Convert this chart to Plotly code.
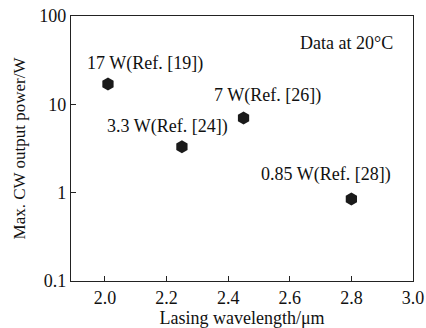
import math
import plotly.graph_objects as go

wavelength = [2.01, 2.25, 2.45, 2.80]
power = [17, 3.3, 7, 0.85]
labels = ["17 W(Ref. [19])", "3.3 W(Ref. [24])", "7 W(Ref. [26])", "0.85 W(Ref. [28])"]
label_shift_x = [37, -14, 24, -25]
label_shift_y = [20, 20, 23, 24]
x_ticks = [2.0, 2.2, 2.4, 2.6, 2.8, 3.0]
x_ticktext = ["2.0", "2.2", "2.4", "2.6", "2.8", "3.0"]
y_ticks = [0.1, 1, 10, 100]
y_ticktext = ["0.1", "1", "10", "100"]

FONT = "Liberation Serif, Times New Roman, serif"
TXT = "#111"

fig = go.Figure()
fig.add_trace(go.Scatter(
    x=wavelength, y=power, mode="markers",
    marker=dict(symbol="hexagon", size=13, color="#1a1a1a"),
    showlegend=False, hoverinfo="skip"))

for x, y, t, dx, dy in zip(wavelength, power, labels, label_shift_x, label_shift_y):
    fig.add_annotation(x=x, y=math.log10(y), text=t, showarrow=False,
                       xshift=dx, yshift=dy, xanchor="center", yanchor="middle",
                       font=dict(family=FONT, size=18, color=TXT))

fig.add_annotation(xref="paper", yref="paper", x=0.807, y=0.898, text="Data at 20°C",
                   showarrow=False, xanchor="center", yanchor="middle",
                   font=dict(family=FONT, size=18, color=TXT))

axis_common = dict(showline=True, linecolor="#222", linewidth=1.3, mirror=True,
                   ticks="inside", ticklen=5, tickcolor="#222", showgrid=False,
                   zeroline=False, automargin=False, ticklabeloverflow="allow",
                   tickfont=dict(family=FONT, size=18, color=TXT))

fig.update_xaxes(range=[1.89, 3.0], tickvals=x_ticks, ticktext=x_ticktext,
                 title=dict(text="Lasing wavelength/μm", font=dict(family=FONT, size=18, color=TXT), standoff=0),
                 **axis_common)
fig.update_yaxes(type="log", range=[-1, 2], tickvals=y_ticks, ticktext=y_ticktext,
                 title=dict(text="Max. CW output power/W", font=dict(family=FONT, size=17, color=TXT), standoff=9),
                 **axis_common)

fig.update_layout(width=426, height=328, margin=dict(l=71, r=13, t=16, b=47),
                  plot_bgcolor="white", paper_bgcolor="white")
fig.write_html("out.html", config={"displayModeBar": False},
               post_script="document.body.style.margin='0';document.body.style.overflow='hidden';")
